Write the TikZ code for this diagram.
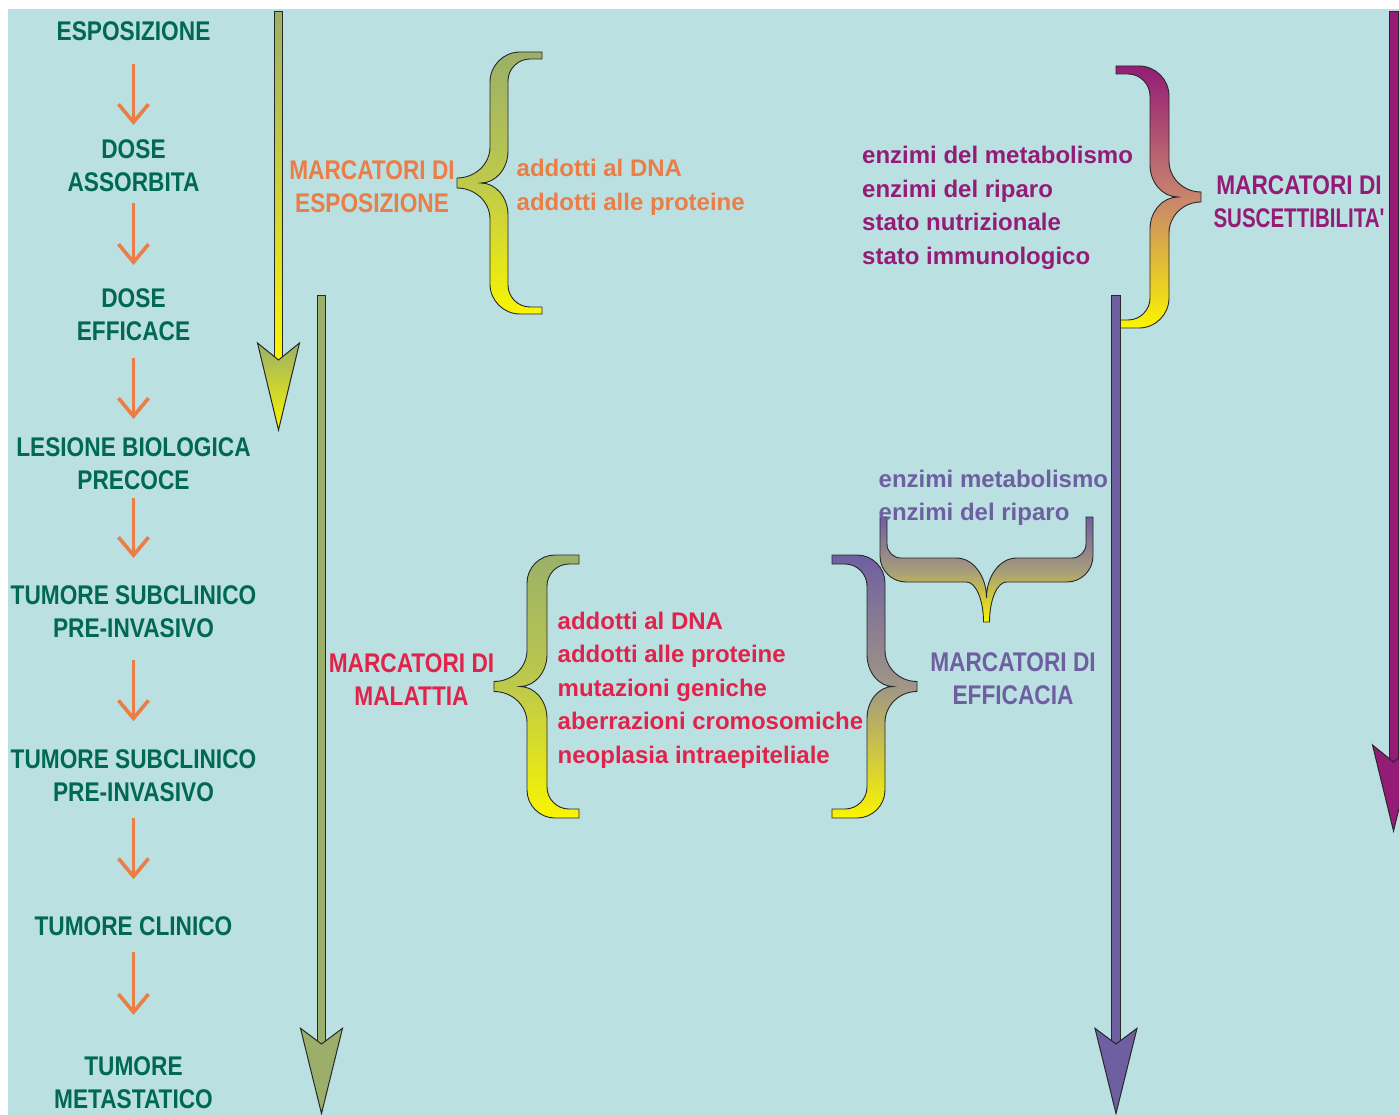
\documentclass[tikz,border=0pt]{standalone}
\usepackage{fontspec}
\setmainfont{Liberation Sans}
\newfontfamily\capfont[FakeStretch=0.84]{Liberation Sans}
\newfontfamily\capfontn[FakeStretch=0.76]{Liberation Sans}
\usetikzlibrary{arrows.meta}

\definecolor{bgc}{RGB}{186,224,226}
\definecolor{greentxt}{RGB}{0,105,80}
\definecolor{orangec}{RGB}{235,125,70}
\definecolor{magc}{RGB}{148,28,118}
\definecolor{purc}{RGB}{110,95,160}
\definecolor{redc}{RGB}{225,35,75}
\definecolor{olivec}{RGB}{155,176,104}
\definecolor{olivefill}{RGB}{155,175,107}
\definecolor{yelc}{RGB}{250,245,0}
\definecolor{olmid}{RGB}{190,202,75}
\definecolor{magmid}{RGB}{200,132,110}
\definecolor{purmid}{RGB}{160,150,135}
\definecolor{hbmid}{RGB}{165,155,125}
\definecolor{outl}{RGB}{40,40,40}

\pgfkeys{/brc/.cd,
  A/.store in=\bA, O/.store in=\bO, I/.store in=\bI, T/.store in=\bT, U/.store in=\bU,
  Ya/.store in=\bYa, Yb/.store in=\bYb, t/.store in=\bt, r/.store in=\br, ri/.store in=\bri,
  rm/.store in=\brm, rmi/.store in=\brmi, h/.store in=\bh}

\newcommand\bracepath[2]{%
  \pgfkeys{/brc/.cd,#2}%
  \pgfmathsetmacro\bs{sign(\bA-\bO)}%
  \pgfmathsetmacro\bM{(\bYa+\bYb)/2}%
  \pgfmathsetmacro\xOr{\bO+\bs*\br}%
  \pgfmathsetmacro\xOrc{\bO+\bs*\br*0.45}%
  \pgfmathsetmacro\yTr{\bYa+\br}%
  \pgfmathsetmacro\yTrc{\bYa+\br*0.45}%
  \pgfmathsetmacro\yBr{\bYb-\br}%
  \pgfmathsetmacro\yBrc{\bYb-\br*0.45}%
  \pgfmathsetmacro\yMa{\bM-\brm}%
  \pgfmathsetmacro\yMac{\bM-\brm+0.55*(\brm-\bh)}%
  \pgfmathsetmacro\yMb{\bM+\brm}%
  \pgfmathsetmacro\yMbc{\bM+\brm-0.55*(\brm-\bh)}%
  \pgfmathsetmacro\yMh{\bM-\bh}%
  \pgfmathsetmacro\yMhb{\bM+\bh}%
  \pgfmathsetmacro\xTc{\bT+0.55*(\bO-\bT)}%
  \pgfmathsetmacro\xIr{\bI+\bs*\bri}%
  \pgfmathsetmacro\xIrc{\bI+\bs*\bri*0.45}%
  \pgfmathsetmacro\yIt{\bYa+\bt}%
  \pgfmathsetmacro\yItr{\bYa+\bt+\bri}%
  \pgfmathsetmacro\yItrc{\bYa+\bt+\bri*0.45}%
  \pgfmathsetmacro\yIb{\bYb-\bt}%
  \pgfmathsetmacro\yIbr{\bYb-\bt-\bri}%
  \pgfmathsetmacro\yIbrc{\bYb-\bt-\bri*0.45}%
  \pgfmathsetmacro\yIMa{\bM-\brmi}%
  \pgfmathsetmacro\yIMac{\bM-\brmi*0.45}%
  \pgfmathsetmacro\yIMb{\bM+\brmi}%
  \pgfmathsetmacro\yIMbc{\bM+\brmi*0.45}%
  \pgfmathsetmacro\xUc{\bU+0.55*(\bI-\bU)}%
  \path[#1] (\bA,\bYa) -- (\xOr,\bYa) .. controls (\xOrc,\bYa) and (\bO,\yTrc) .. (\bO,\yTr)
   -- (\bO,\yMa) .. controls (\bO,\yMac) and (\xTc,\yMh) .. (\bT,\yMh)
   -- (\bT,\yMhb) .. controls (\xTc,\yMhb) and (\bO,\yMbc) .. (\bO,\yMb)
   -- (\bO,\yBr) .. controls (\bO,\yBrc) and (\xOrc,\bYb) .. (\xOr,\bYb)
   -- (\bA,\bYb) -- (\bA,\yIb) -- (\xIr,\yIb) .. controls (\xIrc,\yIb) and (\bI,\yIbrc) .. (\bI,\yIbr)
   -- (\bI,\yIMb) .. controls (\bI,\yIMbc) and (\xUc,\bM) .. (\bU,\bM)
   .. controls (\xUc,\bM) and (\bI,\yIMac) .. (\bI,\yIMa)
   -- (\bI,\yItr) .. controls (\bI,\yItrc) and (\xIrc,\yIt) .. (\xIr,\yIt)
   -- (\bA,\yIt) -- cycle;}

% #1 style, #2 x, #3 half shaft width, #4 top, #5 barb y, #6 notch y, #7 tip y
\newcommand\bigarrow[7]{%
  \path[#1] ({#2-#3},#4) rectangle ({#2+#3},{#6-1});
  \path[#1] ({#2-21},#5) -- (#2,#6) -- ({#2+21},#5) -- (#2,#7) -- cycle;}

\tikzset{
  bracestyle/.style={draw=outl, line width=0.9pt},
  arrowbody/.style={draw=outl, line width=1pt, line join=miter},
  lab/.style={font=\capfont\bfseries\fontsize{27}{33}\selectfont, align=center, inner sep=0pt},
  lst/.style={font=\bfseries\fontsize{24}{33.5}\selectfont, anchor=base west, inner sep=0pt},
  oarrow/.style={draw=orangec, line width=3.6pt, -{Straight Barb[length=18pt,width=30pt]}},
}

\begin{document}
\begin{tikzpicture}[x=1pt,y=-1pt]
\useasboundingbox (0,0) rectangle (1399,1115);
\clip (0,0) rectangle (1399,1115);
\fill[white] (0,0) rectangle (1399,1115);
\fill[bgc] (8,9) rectangle (1399,1115);

% braces
\bracepath{bracestyle, top color=olivec, bottom color=yelc, middle color=olmid}{A=542,O=490,I=508,T=457,U=481,Ya=52,Yb=314,t=7,r=30,ri=22,rm=36,rmi=32,h=5}
\bracepath{bracestyle, top color=magc, bottom color=yelc, middle color=magmid}{A=1116,O=1169,I=1150,T=1201,U=1178,Ya=66,Yb=328,t=8,r=30,ri=22,rm=36,rmi=32,h=5}
\bracepath{bracestyle, top color=olivec, bottom color=yelc, middle color=olmid}{A=579,O=527,I=547,T=494,U=520,Ya=555,Yb=818,t=9,r=28,ri=22,rm=36,rmi=32,h=5}
\bracepath{bracestyle, top color=purc, bottom color=yelc, middle color=purmid}{A=832,O=885,I=867,T=917,U=893,Ya=555,Yb=818,t=9,r=28,ri=22,rm=36,rmi=32,h=5}
\begin{scope}[x={(0pt,-1pt)}, y={(1pt,0pt)}]
\bracepath{bracestyle, top color=purc, bottom color=yelc, middle color=hbmid}{A=517,O=582,I=558,T=622,U=598,Ya=880,Yb=1093,t=7,r=26,ri=14,rm=20,rmi=30,h=3}
\end{scope}

% big arrows
\bigarrow{arrowbody, top color=olivec, bottom color=yelc}{278.5}{4.2}{12}{343}{360}{430}
\bigarrow{arrowbody, fill=olivefill}{321.5}{4.3}{295}{1028.3}{1044}{1113.5}
\bigarrow{arrowbody, fill=purc}{1116}{4.2}{295}{1028.3}{1044}{1113.5}
\bigarrow{arrowbody, fill=magc}{1393.5}{4.5}{12}{745}{762}{831}

% left column
\node[lab, text=greentxt] (n1) at (133.5,31.2) {ESPOSIZIONE};
\node[lab, text=greentxt] (n2) at (133.5,166) {DOSE\\ASSORBITA};
\node[lab, text=greentxt] (n3) at (133.5,315) {DOSE\\EFFICACE};
\node[lab, text=greentxt] (n4) at (133.5,464) {LESIONE BIOLOGICA\\PRECOCE};
\node[lab, text=greentxt] (n5) at (133.5,612) {TUMORE SUBCLINICO\\PRE-INVASIVO};
\node[lab, text=greentxt] (n6) at (133.5,775.6) {TUMORE SUBCLINICO\\PRE-INVASIVO};
\node[lab, text=greentxt] (n7) at (133.5,926.3) {TUMORE CLINICO};
\node[lab, text=greentxt] (n8) at (133.5,1082.6) {TUMORE\\METASTATICO};

\draw[oarrow, shorten <=32.8pt, shorten >=41pt] (n1.center) -- (n2.center);
\draw[oarrow, shorten <=37.3pt, shorten >=50pt] (n2.center) -- (n3.center);
\draw[oarrow, shorten <=43.3pt, shorten >=45pt] (n3.center) -- (n4.center);
\draw[oarrow, shorten <=34pt, shorten >=54pt] (n4.center) -- (n5.center);
\draw[oarrow, shorten <=47.7pt, shorten >=54.4pt] (n5.center) -- (n6.center);
\draw[oarrow, shorten <=41.9pt, shorten >=47pt] (n6.center) -- (n7.center);
\draw[oarrow, shorten <=26pt, shorten >=67.7pt] (n7.center) -- (n8.center);

% marker labels
\node[lab, text=orangec] (mexp) at (372,186.5) {MARCATORI DI\\ESPOSIZIONE};
\node[lab, text=magc] (msus) at (1299,201.7) {MARCATORI DI\\{\capfontn SUSCETTIBILITA'}};
\node[lab, text=purc] (meff) at (1013,679) {MARCATORI DI\\EFFICACIA};
\node[lab, text=redc] (mmal) at (411.5,679.5) {MARCATORI DI\\MALATTIA};

% lists
\node[lst, text=orangec] (e1) at (516.5,177) {addotti al DNA};
\node[lst, text=orangec] (e2) at (516.5,211) {addotti alle proteine};

\node[lst, text=magc] (s1) at (862,164) {enzimi del metabolismo};
\node[lst, text=magc] (s2) at (862,197.5) {enzimi del riparo};
\node[lst, text=magc] (s3) at (862,231) {stato nutrizionale};
\node[lst, text=magc] (s4) at (862,264.5) {stato immunologico};

\node[lst, text=purc] (f1) at (878.5,487) {enzimi metabolismo};
\node[lst, text=purc] (f2) at (878.5,520.5) {enzimi del riparo};

\node[lst, text=redc] (d1) at (557.5,629) {addotti al DNA};
\node[lst, text=redc] (d2) at (557.5,662.5) {addotti alle proteine};
\node[lst, text=redc] (d3) at (557.5,696) {mutazioni geniche};
\node[lst, text=redc] (d4) at (557.5,729.5) {aberrazioni cromosomiche};
\node[lst, text=redc] (d5) at (557.5,763) {neoplasia intraepiteliale};
\end{tikzpicture}
\end{document}
